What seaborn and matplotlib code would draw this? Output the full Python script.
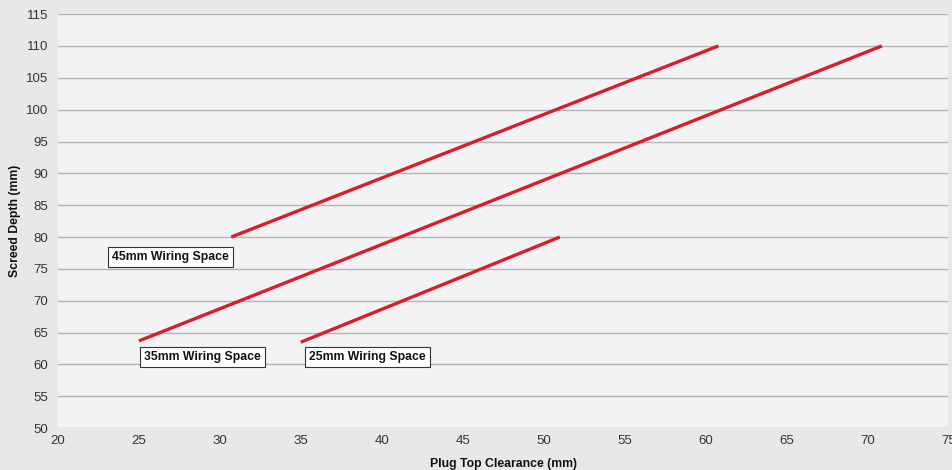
import matplotlib
matplotlib.use("Agg")
import matplotlib.pyplot as plt
import seaborn as sns
import pandas as pd

# wiring space lines: plug top clearance (mm) vs screed depth (mm)
series_names = ["45mm Wiring Space", "35mm Wiring Space", "25mm Wiring Space"]
clearance_45 = [30.7, 60.8]
depth_45 = [80, 110]
clearance_35 = [25, 70.9]
depth_35 = [63.7, 110]
clearance_25 = [35, 51]
depth_25 = [63.5, 80]

# label anchors (left edge, vertical centre)
label_x = [23.35, 25.3, 35.5]
label_y = [76.9, 61.2, 61.2]

x_ticks = list(range(20, 80, 5))
y_ticks = list(range(50, 120, 5))

sns.set_style("white")
plt.rcParams["font.family"] = ["Liberation Sans", "DejaVu Sans"]

fig = plt.figure(figsize=(9.52, 4.70), dpi=100)
fig.patch.set_facecolor("#e8e8e8")
ax = fig.add_axes([0.061, 0.089, 0.935, 0.881])
ax.set_facecolor("#f3f3f3")

red = "#d81e2a"
for xs, ys, name in zip([clearance_45, clearance_35, clearance_25],
                        [depth_45, depth_35, depth_25], series_names):
    df = pd.DataFrame({"x": xs, "y": ys})
    sns.lineplot(data=df, x="x", y="y", ax=ax, color=red, linewidth=2.4,
                 solid_capstyle="butt", zorder=3)

for name, lx, ly in zip(series_names, label_x, label_y):
    ax.text(lx, ly, name, ha="left", va="center", fontsize=8.8, fontweight="bold",
            color="#111111", zorder=4,
            bbox=dict(boxstyle="square,pad=0.35", facecolor="white",
                      edgecolor="#333333", linewidth=0.8))

ax.set_xlim(20, 75)
ax.set_ylim(50, 115)
ax.set_xticks(x_ticks)
ax.set_yticks(y_ticks)
ax.grid(axis="y", color="#b4b4b4", linewidth=1.0, zorder=0)
ax.set_axisbelow(True)
for s in ax.spines.values():
    s.set_visible(False)
ax.tick_params(axis="x", direction="in", length=4, color="#aaaaaa",
               labelsize=9.5, labelcolor="#333333", pad=5)
ax.tick_params(axis="y", direction="out", length=0, labelsize=9.5,
               labelcolor="#333333", pad=7)

ax.set_xlabel("Plug Top Clearance (mm)", fontsize=8.8, fontweight="bold",
              color="#111111", labelpad=8)
ax.set_ylabel("Screed Depth (mm)", fontsize=8.8, fontweight="bold",
              color="#111111", labelpad=4)

fig.savefig("out.png", dpi=100, facecolor=fig.get_facecolor())
